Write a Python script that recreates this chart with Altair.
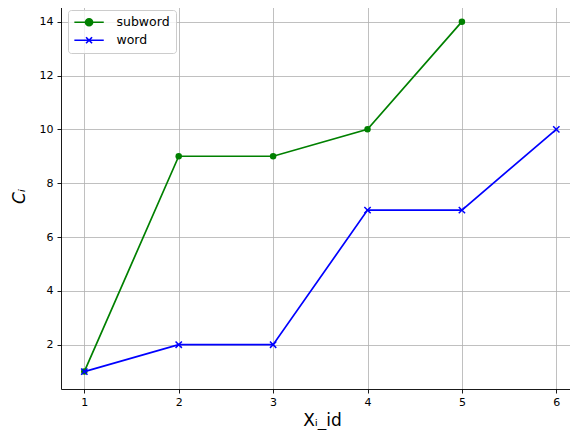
import altair as alt
import pandas as pd

# ---- data ----
x_ids = [1, 2, 3, 4, 5, 6]
subword_vals = [1, 9, 9, 10, 14]
word_vals = [1, 2, 2, 7, 7, 10]
series_names = ["subword", "word"]
series_colors = ["#008000", "#0000ff"]
x_ticks = [1, 2, 3, 4, 5, 6]
y_ticks = [2, 4, 6, 8, 10, 12, 14]

df = pd.DataFrame({
    "x": x_ids[:len(subword_vals)] + x_ids[:len(word_vals)],
    "y": subword_vals + word_vals,
    "series": ["subword"] * len(subword_vals) + ["word"] * len(word_vals),
})

FONT = "DejaVu Sans"
X_DOMAIN = [0.753, 6.145]
Y_DOMAIN = [0.354, 14.657]

X_MARK = "M-1,-1L1,1M-1,1L1,-1"
LEG_SUB = "M-1.18,0L4.7,0M1.06,0A0.7,0.7 0 1,1 2.46,0A0.7,0.7 0 1,1 1.06,0Z"
LEG_WORD = "M-1.18,0L4.7,0M1.16,-0.6L2.36,0.6M1.16,0.6L2.36,-0.6"

xenc = alt.X("x:Q", scale=alt.Scale(domain=X_DOMAIN, nice=False, zero=False),
             axis=alt.Axis(values=x_ticks, title="Xᵢ_id", format="d",
                           titleX=261, titleY=36, titleBaseline="alphabetic",
                           titleFontSize=17, titleFontWeight="normal"))
yenc = alt.Y("y:Q", scale=alt.Scale(domain=Y_DOMAIN, nice=False, zero=False),
             axis=alt.Axis(values=y_ticks, title="Cᵢ", format="d",
                           titleX=-37, titleY=192, titleAngle=-90,
                           titleBaseline="alphabetic", titleAlign="center",
                           titleFontSize=17, titleFontStyle="italic",
                           titleFontWeight="normal"))

base = alt.Chart(df)

def series_layers(name, color, shape, filled, size):
    sub = base.transform_filter(alt.datum.series == name)
    line = sub.mark_line(color=color, strokeWidth=1.7, clip=True).encode(x=xenc, y=yenc)
    pts = sub.mark_point(color=color, shape=shape, filled=filled, size=size,
                         strokeWidth=1.5, opacity=1, clip=True).encode(x=xenc, y=yenc)
    return [line, pts]

layers = []
layers += series_layers("subword", series_colors[0], "circle", True, 42)
layers += series_layers("word", series_colors[1], X_MARK, False, 40)

leg = alt.Legend(title=None, orient="none", legendX=7, legendY=6,
                 labelFont=FONT, labelFontSize=12.5, labelColor="#000000",
                 labelOffset=30, symbolSize=100, symbolStrokeWidth=1.7,
                 padding=6, rowPadding=3, fillColor="rgba(255,255,255,0.8)",
                 strokeColor="#cccccc", cornerRadius=3)

legend_layer = base.transform_filter("false").mark_point(
    filled=True, size=100, strokeWidth=1.7, opacity=1
).encode(
    shape=alt.Shape("series:N", scale=alt.Scale(domain=series_names, range=[LEG_SUB, LEG_WORD]), legend=leg),
    color=alt.Color("series:N", scale=alt.Scale(domain=series_names, range=series_colors), legend=leg),
    stroke=alt.Stroke("series:N", scale=alt.Scale(domain=series_names, range=series_colors), legend=leg),
)
layers.append(legend_layer)

chart = alt.layer(*layers).properties(
    width=509, height=385,
    autosize=alt.AutoSizeParams(type="none"),
    padding={"left": 53, "top": -4, "right": 0, "bottom": 41},
).configure_view(stroke=None).configure_axis(
    grid=True, gridColor="#b0b0b0", gridWidth=0.8,
    domainColor="#000000", domainWidth=0.9,
    tickColor="#000000", tickWidth=0.9, tickSize=4,
    labelFont=FONT, labelFontSize=11, labelColor="#000000", labelPadding=3,
    titleFont=FONT, titleColor="#000000",
).configure_axisY(labelPadding=4)

chart.save("out.html", embed_options={"renderer": "svg", "actions": False})
